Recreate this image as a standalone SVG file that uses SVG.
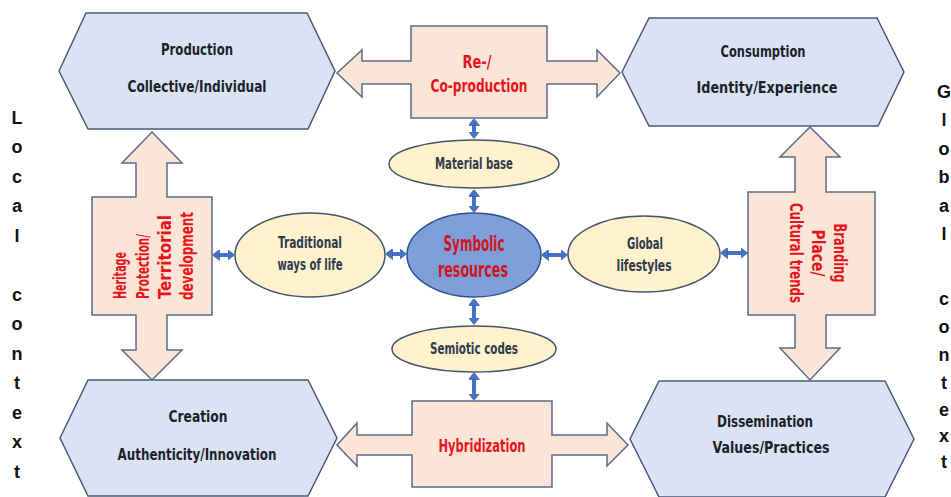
<svg xmlns="http://www.w3.org/2000/svg" width="951" height="497" viewBox="0 0 951 497">
<defs>
<style>
.hex{fill:#dae3f3;stroke:#4a5a7a;stroke-width:1.5}
.peach{fill:#fbe5d6;stroke:#5b6b8a;stroke-width:1.5}
.ell{fill:#fff2cc;stroke:#44546a;stroke-width:1.5}
.sym{fill:#7f9fdb;stroke:#2f528f;stroke-width:1.5}
.t{font-family:"Liberation Sans Narrow","DejaVu Sans Condensed","Liberation Sans",sans-serif;font-weight:bold;text-anchor:middle}
.dk{fill:#1a1f29;font-size:16px}
.el{fill:#2e3a4e;font-size:16px}
.rd{fill:#e8141c;font-size:18px}
.side{font-family:"Liberation Sans",Arial,sans-serif;font-weight:bold;font-size:18px;fill:#111;text-anchor:middle}
.con{stroke:#4472c4;stroke-width:4;fill:none;marker-start:url(#ah);marker-end:url(#ah)}
</style>
<marker id="ah" markerUnits="userSpaceOnUse" markerWidth="7" markerHeight="11" viewBox="0 0 7 11" refX="0.5" refY="5.5" orient="auto-start-reverse">
<path d="M0,0 L7,5.5 L0,11 z" fill="#4472c4" stroke="#2f528f" stroke-width="0.6"/>
</marker>
</defs>
<rect width="951" height="497" fill="#ffffff"/>

<g id="production">
<polygon class="hex" points="59,71 86,13 307,13 335,71 308,129 88,129"/>
<text class="t dk" x="197" y="55" textLength="72" lengthAdjust="spacingAndGlyphs">Production</text>
<text class="t dk" x="197" y="92" textLength="139" lengthAdjust="spacingAndGlyphs">Collective/Individual</text>
</g>
<g id="consumption">
<polygon class="hex" points="622,72 649,18 877,18 904,72 878,126 649,126"/>
<text class="t dk" x="763" y="57" textLength="85" lengthAdjust="spacingAndGlyphs">Consumption</text>
<text class="t dk" x="767" y="93" textLength="141" lengthAdjust="spacingAndGlyphs">Identity/Experience</text>
</g>
<g id="creation">
<polygon class="hex" points="60,438 88,380 308,380 337,438 308,496 88,496"/>
<text class="t dk" x="198" y="422" textLength="59" lengthAdjust="spacingAndGlyphs">Creation</text>
<text class="t dk" x="197" y="460" textLength="159" lengthAdjust="spacingAndGlyphs">Authenticity/Innovation</text>
</g>
<g id="dissemination">
<polygon class="hex" points="630,439 659,381 885,381 914,439 885,497 659,497"/>
<text class="t dk" x="765" y="427" textLength="96" lengthAdjust="spacingAndGlyphs">Dissemination</text>
<text class="t dk" x="771" y="453" textLength="117" lengthAdjust="spacingAndGlyphs">Values/Practices</text>
</g>

<g id="reproduction">
<polygon class="peach" points="337,73 362,50 362,61 411,61 411,26 547,26 547,61 597,61 597,50 620,73 597,97 597,84 547,84 547,118 411,118 411,84 362,84 362,97"/>
<text class="t rd" x="477" y="68" textLength="29" lengthAdjust="spacingAndGlyphs">Re-/</text>
<text class="t rd" x="479" y="92" textLength="97" lengthAdjust="spacingAndGlyphs">Co-production</text>
</g>
<g id="hybridization">
<polygon class="peach" points="337,445 357,423 357,435 412,435 412,401 552,401 552,435 607,435 607,423 628,445 607,466 607,455 552,455 552,487 412,487 412,455 357,455 357,466"/>
<text class="t rd" x="482" y="452" font-size="19" textLength="87" lengthAdjust="spacingAndGlyphs">Hybridization</text>
</g>
<g id="heritage">
<polygon class="peach" points="152,132 182,163 167,163 167,197 212,197 212,315 167,315 167,350 182,350 152,380 122,350 136,350 136,315 92,315 92,197 136,197 136,163 122,163"/>
<g class="t rd" style="text-anchor:start">
<text transform="translate(126,299) rotate(-90)" textLength="47" lengthAdjust="spacingAndGlyphs">Heritage</text>
<text transform="translate(149,299) rotate(-90)" textLength="65" lengthAdjust="spacingAndGlyphs">Protection/</text>
<text transform="translate(171,299) rotate(-90)" textLength="84" lengthAdjust="spacingAndGlyphs">Territorial</text>
<text transform="translate(193,300) rotate(-90)" textLength="88" lengthAdjust="spacingAndGlyphs">development</text>
</g>
</g>
<g id="branding">
<polygon class="peach" points="810,127 840,157 826,157 826,192 875,192 875,315 826,315 826,348 840,348 810,380 780,348 795,348 795,315 748,315 748,192 795,192 795,157 780,157"/>
<g class="t rd">
<text transform="translate(834,253) rotate(90)" textLength="59" lengthAdjust="spacingAndGlyphs">Branding</text>
<text transform="translate(812,253) rotate(90)" textLength="47" lengthAdjust="spacingAndGlyphs">Place/</text>
<text transform="translate(790,253) rotate(90)" textLength="100" lengthAdjust="spacingAndGlyphs">Cultural trends</text>
</g>
</g>

<g id="material-base">
<ellipse class="ell" cx="474" cy="164" rx="85" ry="24"/>
<text class="t el" x="474" y="169" textLength="78" lengthAdjust="spacingAndGlyphs">Material base</text>
</g>
<g id="traditional">
<ellipse class="ell" cx="310" cy="255" rx="75" ry="42"/>
<text class="t el" x="310" y="248" textLength="64" lengthAdjust="spacingAndGlyphs">Traditional</text>
<text class="t el" x="310" y="270" textLength="65" lengthAdjust="spacingAndGlyphs">ways of life</text>
</g>
<g id="symbolic">
<ellipse class="sym" cx="474" cy="255" rx="67" ry="42"/>
<text class="t" x="474" y="251" font-size="21" fill="#d0141e" textLength="61" lengthAdjust="spacingAndGlyphs">Symbolic</text>
<text class="t" x="473" y="277" font-size="21" fill="#d0141e" textLength="70" lengthAdjust="spacingAndGlyphs">resources</text>
</g>
<g id="global">
<ellipse class="ell" cx="644" cy="254" rx="76" ry="38"/>
<text class="t el" x="645" y="249" textLength="36" lengthAdjust="spacingAndGlyphs">Global</text>
<text class="t el" x="644" y="271" textLength="55" lengthAdjust="spacingAndGlyphs">lifestyles</text>
</g>
<g id="semiotic">
<ellipse class="ell" cx="474" cy="349" rx="82" ry="23"/>
<text class="t el" x="474" y="354" textLength="88" lengthAdjust="spacingAndGlyphs">Semiotic codes</text>
</g>

<g id="connectors">
<line class="con" x1="474" y1="125" x2="474" y2="132"/>
<line class="con" x1="474" y1="196" x2="474" y2="206"/>
<line class="con" x1="474" y1="305" x2="474" y2="318"/>
<line class="con" x1="474" y1="379" x2="474" y2="394"/>
<line class="con" x1="219" y1="255" x2="228" y2="255"/>
<line class="con" x1="392" y1="254" x2="400" y2="254"/>
<line class="con" x1="548" y1="255" x2="561" y2="255"/>
<line class="con" x1="727" y1="253" x2="741" y2="253"/>
</g>

<g id="local-context" class="side">
<text x="17" y="124">L</text>
<text x="17" y="153">o</text>
<text x="17" y="183">c</text>
<text x="17" y="212">a</text>
<text x="17" y="242">l</text>
<text x="17" y="301">c</text>
<text x="17" y="330">o</text>
<text x="17" y="360">n</text>
<text x="17" y="389">t</text>
<text x="17" y="419">e</text>
<text x="17" y="448">x</text>
<text x="17" y="478">t</text>
</g>
<g id="global-context" class="side">
<text x="944" y="98">G</text>
<text x="944" y="126">l</text>
<text x="944" y="155">o</text>
<text x="944" y="183">b</text>
<text x="944" y="212">a</text>
<text x="944" y="240">l</text>
<text x="944" y="305">c</text>
<text x="944" y="333">o</text>
<text x="944" y="361">n</text>
<text x="944" y="389">t</text>
<text x="944" y="416">e</text>
<text x="944" y="442">x</text>
<text x="944" y="468">t</text>
</g>
</svg>
